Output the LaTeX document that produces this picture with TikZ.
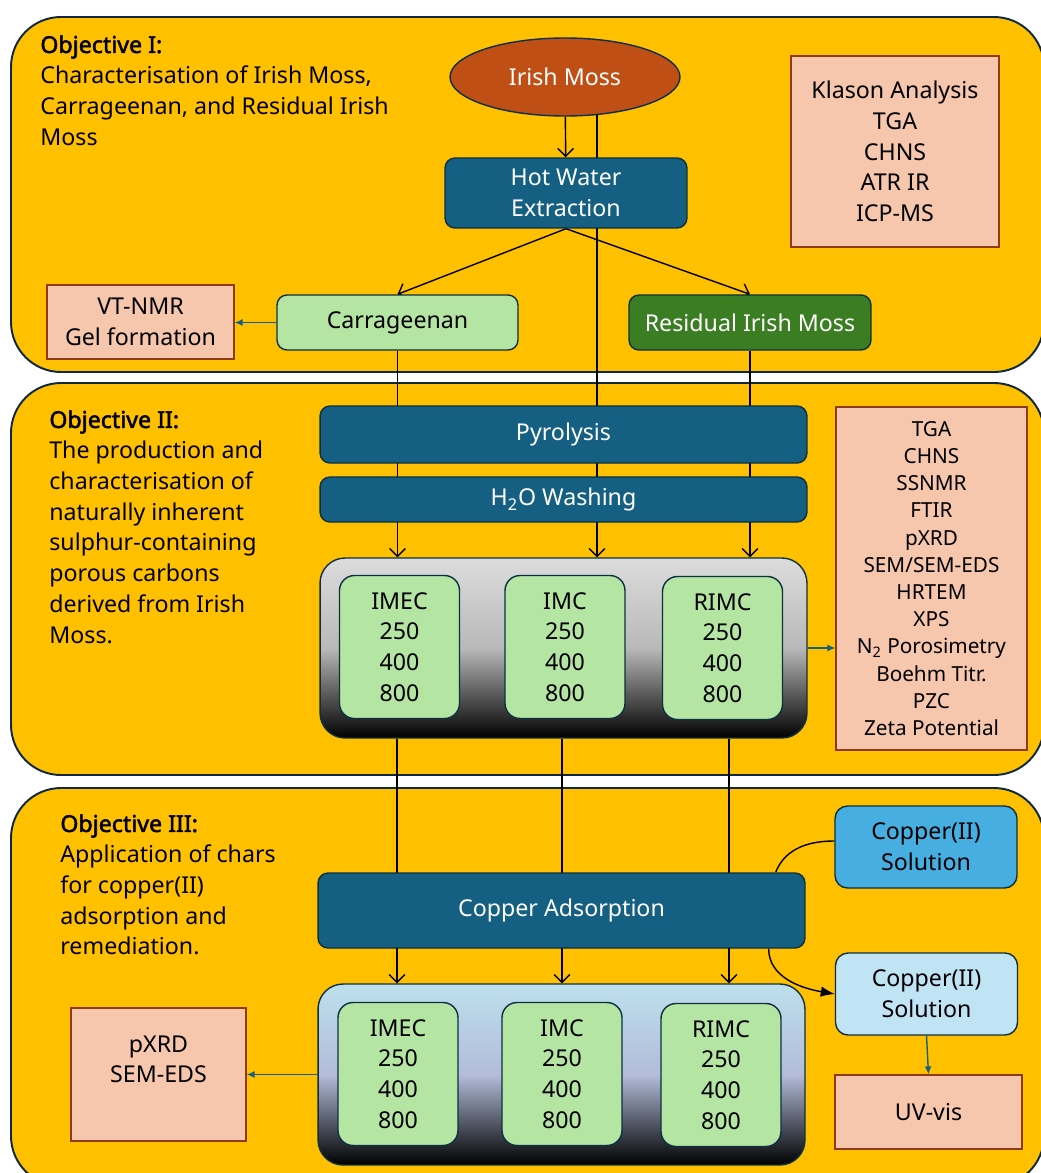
\documentclass[tikz,border=0pt]{standalone}
\usepackage{fontspec}
\setmainfont{Noto Sans}[AutoFakeBold=2.2]
\usetikzlibrary{shapes.geometric,arrows.meta}

\definecolor{objgold}{HTML}{FFC000}
\definecolor{darknavy}{HTML}{0E2841}
\definecolor{procteal}{HTML}{156082}
\definecolor{boxedge}{HTML}{0B3044}
\definecolor{peach}{HTML}{F6C6AD}
\definecolor{peachedge}{HTML}{8E3A14}
\definecolor{mossorange}{HTML}{C04F15}
\definecolor{leafgreen}{HTML}{B4E5A2}
\definecolor{residgreen}{HTML}{3A7D22}
\definecolor{cublue}{HTML}{46AEE0}
\definecolor{cupale}{HTML}{C1E4F5}
\definecolor{charsgrey}{HTML}{DCDCDC}
\definecolor{soaktop}{HTML}{BDE0EC}
\definecolor{soakmid}{HTML}{B3BCDA}

\pgfdeclarelayer{background}
\pgfdeclarelayer{lines}
\pgfsetlayers{background,lines,main}

\tikzset{
  bodyfont/.style={font=\fontsize{13.2}{17.5}\selectfont},
  panel/.style={draw=darknavy, line width=1.1pt, fill=objgold, rounded corners=1cm},
  objtext/.style={bodyfont, anchor=north west, inner sep=0pt, align=left},
  boxbase/.style={bodyfont, draw=boxedge, line width=0.8pt, align=center, inner sep=0pt},
  procbox/.style={boxbase, fill=procteal, text=white, rounded corners=0.2cm},
  peachbox/.style={boxbase, draw=peachedge, fill=peach},
  samplebox/.style={boxbase, fill=leafgreen, rounded corners=0.3cm, minimum width=2.4cm, minimum height=2.86cm},
  holder/.style={draw=boxedge, line width=0.8pt, rounded corners=0.5cm, minimum width=9.74cm, minimum height=3.6cm},
  flow/.style={line width=0.8pt, -{Straight Barb[length=4.5pt,width=9pt]}},
  link/.style={line width=0.8pt},
  tealflow/.style={draw=procteal, line width=0.8pt, -{Latex[length=4.5pt,width=4pt]}},
}

\begin{document}
\begin{tikzpicture}[x=0.02cm, y=-0.02cm]
\useasboundingbox (0,0) rectangle (1041,1173);

% the three objectives
\begin{pgfonlayer}{background}
\draw[panel] (11,17) rectangle (1044,372);
\draw[panel] (11,383) rectangle (1044,775);
\draw[panel] (11,788) rectangle (1044,1186);
\end{pgfonlayer}

\node[objtext] (objA) at (40,35) {\textbf{Objective I:}\\Characterisation of Irish Moss,\\Carrageenan, and Residual Irish\\Moss};
\node[objtext] (objB) at (49,410) {\textbf{Objective II:}\\The production and\\characterisation of\\naturally inherent\\sulphur-containing\\porous carbons\\derived from Irish\\Moss.};
\node[objtext] (objC) at (60,814) {\textbf{Objective III:}\\Application of chars\\for copper(II)\\adsorption and\\remediation.};

% objective I
\node[ellipse, draw=boxedge, line width=0.8pt, fill=mossorange, text=white, bodyfont, minimum width=4.6cm, minimum height=1.56cm, inner sep=0pt] (moss) at (565,77) {Irish Moss};
\node[procbox, minimum width=4.84cm, minimum height=1.4cm] (hot) at (566,193) {Hot Water\\Extraction};
\node[boxbase, fill=leafgreen, rounded corners=0.2cm, minimum width=4.82cm, minimum height=1.1cm] (carr) at (397.5,322.5) {Carrageenan};
\node[boxbase, fill=residgreen, text=white, rounded corners=0.2cm, minimum width=4.84cm, minimum height=1.1cm] (resid) at (750,322.5) {Residual Irish Moss};
\node[peachbox, minimum width=3.74cm, minimum height=1.48cm] (vtnmr) at (140.5,322) {VT-NMR\\Gel formation};
\node[peachbox, minimum width=4.16cm, minimum height=3.82cm] (klason) at (895,151.5) {Klason Analysis\\TGA\\CHNS\\ATR IR\\ICP-MS};

% objective II
\node[procbox, minimum width=9.74cm, minimum height=1.14cm] (pyro) at (563.5,434.5) {Pyrolysis};
\node[procbox, minimum width=9.74cm, minimum height=0.9cm] (wash) at (563.5,499.5) {H\textsubscript{2}O Washing};
\node[holder, top color=charsgrey, bottom color=black, middle color=gray!55] (chars) at (563.5,648) {};
\node[samplebox] (imecA) at (399.5,647) {IMEC\\250\\400\\800};
\node[samplebox] (imcA) at (565,647) {IMC\\250\\400\\800};
\node[samplebox] (rimcA) at (722.5,648) {RIMC\\250\\400\\800};
\node[peachbox, font=\fontsize{11.8}{15.5}\selectfont, minimum width=3.82cm, minimum height=6.86cm] (charlist) at (931.5,578.5) {TGA\\CHNS\\SSNMR\\FTIR\\pXRD\\SEM/SEM-EDS\\HRTEM\\XPS\\N\textsubscript{2} Porosimetry\\Boehm Titr.\\PZC\\Zeta Potential};

% objective III
\node[procbox, minimum width=9.74cm, minimum height=1.5cm] (cads) at (561.5,910.5) {Copper Adsorption};
\node[holder, top color=soaktop, bottom color=black, middle color=soakmid, minimum height=3.62cm] (soaked) at (561.5,1074.5) {};
\node[samplebox] (imecB) at (398,1074) {IMEC\\250\\400\\800};
\node[samplebox] (imcB) at (562,1074) {IMC\\250\\400\\800};
\node[samplebox] (rimcB) at (721,1075) {RIMC\\250\\400\\800};
\node[peachbox, minimum width=3.5cm, minimum height=2.66cm] (sorblist) at (158.5,1074.5) {pXRD\\SEM-EDS\\\mbox{}};
\node[boxbase, fill=cublue, rounded corners=0.25cm, minimum width=3.64cm, minimum height=1.64cm] (cusol) at (926,847) {Copper(II)\\Solution};
\node[boxbase, fill=cupale, rounded corners=0.25cm, minimum width=3.64cm, minimum height=1.64cm] (cuout) at (926.5,994) {Copper(II)\\Solution};
\node[peachbox, minimum width=3.74cm, minimum height=1.48cm] (uvvis) at (928.5,1112) {UV-vis};

\coordinate (midlane) at (597,100);
\coordinate (laneA) at (397,0);
\coordinate (laneB) at (562,0);
\coordinate (laneC) at (729,0);

\begin{pgfonlayer}{lines}
\draw[flow] (moss) -- (hot);
\draw[flow] (hot.south) -- (carr.north);
\draw[flow] (hot.south) -- (resid.north);
\draw[flow] (carr.south) -- (carr.south |- chars.north);
\draw[flow] (midlane) -- (midlane |- chars.north);
\draw[flow] (resid.south) -- (resid.south |- chars.north);
\draw[flow] (laneA |- chars.south) -- (laneA |- soaked.north);
\draw[flow] (laneB |- chars.south) -- (laneB |- soaked.north);
\draw[flow] (laneC |- chars.south) -- (laneC |- soaked.north);
\draw[tealflow] (carr.west) -- (carr.west -| vtnmr.east);
\draw[tealflow] (chars.east) -- (chars.east -| charlist.west);
\draw[tealflow] (soaked.west) -- (soaked.west -| sorblist.east);
\draw[tealflow] (cuout.south) -- (uvvis.north);
\draw[link] ([yshift=0.12cm]cusol.west) .. controls +(-32,0) and +(8,-20) .. ([xshift=-0.6cm]cads.north east);
\draw[link, -{Latex[length=8pt,width=6pt]}] ([xshift=-0.74cm]cads.south east) .. controls +(0,28) and +(-35,-6) .. (cuout.west);
\end{pgfonlayer}
\end{tikzpicture}
\end{document}
